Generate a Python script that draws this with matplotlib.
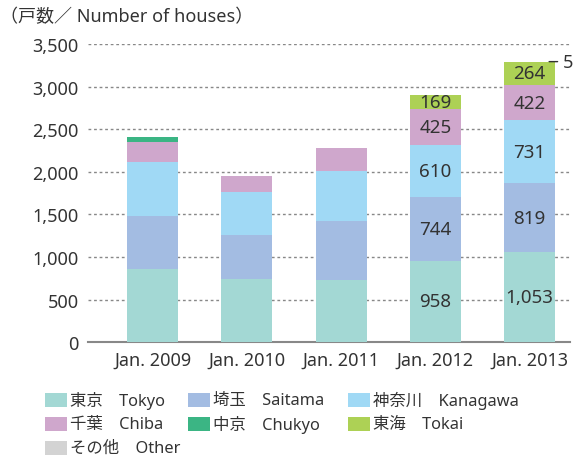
import matplotlib
matplotlib.use('Agg')

import matplotlib.pyplot as plt
from matplotlib.patches import Rectangle

plt.rcParams['font.family'] = ['Noto Sans', 'Noto Sans CJK JP', 'DejaVu Sans']

years = ['Jan. 2009', 'Jan. 2010', 'Jan. 2011', 'Jan. 2012', 'Jan. 2013']
series_names = ['東京\u3000Tokyo', '埼玉\u3000Saitama', '神奈川\u3000Kanagawa',
                '千葉\u3000Chiba', '中京\u3000Chukyo', '東海\u3000Tokai',
                'その他\u3000Other']
tokyo = [857, 740, 728, 958, 1053]
saitama = [622, 516, 692, 744, 819]
kanagawa = [634, 505, 588, 610, 731]
chiba = [235, 188, 270, 425, 422]
chukyo = [59, 0, 0, 0, 0]
tokai = [0, 0, 0, 169, 264]
other = [0, 0, 0, 0, 5]
colors = ['#a3d8d4', '#a3bce2', '#a0d9f5', '#cfa7cc', '#3bb584', '#add155', '#d3d3d3']
labelled_years = [3, 4]   # bars whose segments carry value labels
yticks = [0, 500, 1000, 1500, 2000, 2500, 3000, 3500]

text_color = '#333333'

fig = plt.figure(figsize=(5.73, 4.6), dpi=100)
ax = fig.add_axes([0.154, 0.254, 0.841, 0.648])

x = list(range(len(years)))
width = 0.54
bottom = [0] * len(years)
all_series = [tokyo, saitama, kanagawa, chiba, chukyo, tokai, other]
for vals, color in zip(all_series, colors):
    ax.bar(x, vals, width=width, bottom=bottom, color=color, zorder=3)
    for i in labelled_years:
        if vals[i] >= 100:
            ax.text(x[i], bottom[i] + vals[i] / 2, f'{vals[i]:,}',
                    ha='center', va='center', fontsize=13.5,
                    color=text_color, zorder=4)
    bottom = [b + v for b, v in zip(bottom, vals)]

# small "Other" segment on the last bar gets a leader label
ax.annotate(f'{other[4]}', xy=(x[4] + 0.207, bottom[4]),
            xytext=(x[4] + 0.356, bottom[4]),
            va='center', ha='left', fontsize=13, color=text_color,
            arrowprops=dict(arrowstyle='-', color=text_color, lw=1.0,
                            shrinkA=2, shrinkB=0),
            annotation_clip=False)

ax.set_xlim(-0.684, 4.43)
ax.set_ylim(0, 3500)
ax.set_yticks(yticks)
ax.set_yticklabels([f'{v:,}' for v in yticks])
ax.set_xticks(x)
ax.set_xticklabels(years)
ax.tick_params(axis='both', length=0, labelsize=13, colors=text_color)
ax.tick_params(axis='y', pad=7)
ax.tick_params(axis='x', pad=6)

for v in yticks[1:]:
    ax.axhline(v, color='#888888', lw=1.0, ls=(0, (2, 2)), zorder=1)

for side in ['left', 'right', 'top']:
    ax.spines[side].set_visible(False)
ax.spines['bottom'].set_color('#888888')
ax.spines['bottom'].set_linewidth(1.5)

fig.text(0.0, 0.962, '（戸数／ Number of houses）', fontsize=13,
         color=text_color, ha='left', va='center')

# legend laid out by hand in three columns
col_x = [45, 188, 348]
row_y = [401, 425, 449]
W, H = 573, 460
for k, (name, color) in enumerate(zip(series_names, colors)):
    r, c = divmod(k, 3)
    px, py = col_x[c], row_y[r]
    fig.add_artist(Rectangle((px / W, (H - py - 7) / H), 22 / W, 14 / H,
                             facecolor=color, edgecolor='none',
                             transform=fig.transFigure))
    fig.text((px + 25) / W, (H - py) / H, name, fontsize=11.8,
             color=text_color, ha='left', va='center')

fig.savefig('out.png', dpi=100)
plt.close(fig)
